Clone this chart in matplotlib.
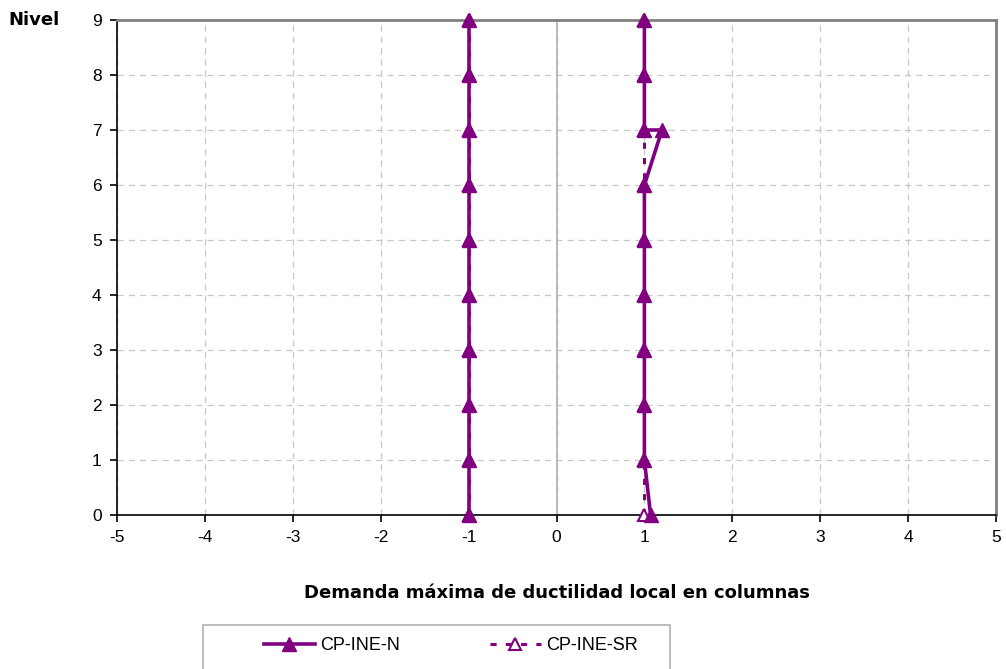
import matplotlib.pyplot as plt
from matplotlib.patches import Rectangle

plt.rcParams['font.family'] = ['Liberation Sans', 'DejaVu Sans']
plt.rcParams['axes.unicode_minus'] = False

# niveles y demandas de ductilidad (CP-INE-N, lado derecho pasa dos veces por el nivel 7)
nivel = [0, 1, 2, 3, 4, 5, 6, 7, 8, 9]
nivel_n_der = [0, 1, 2, 3, 4, 5, 6, 7, 7, 8, 9]
n_izq = [-1, -1, -1, -1, -1, -1, -1, -1, -1, -1]
n_der = [1.07, 1, 1, 1, 1, 1, 1, 1.2, 1, 1, 1]
sr_izq = [-1, -1, -1, -1, -1, -1, -1, -1, -1, -1]
sr_der = [1, 1, 1, 1, 1, 1, 1, 1, 1, 1]

xticks = [-5, -4, -3, -2, -1, 0, 1, 2, 3, 4, 5]
yticks = [0, 1, 2, 3, 4, 5, 6, 7, 8, 9]

morado = '#800080'

fig = plt.figure(figsize=(10.06, 6.69), dpi=100)
ax = fig.add_axes([117/1006, 1 - 515/669, (996-117)/1006, (515-20)/669])

# serie SR (debajo)
for xs in (sr_izq, sr_der):
    l_sr, = ax.plot(xs, nivel, color=morado, lw=2.2, ls=(0, (2, 3)),
                    marker='^', ms=9, mfc='white', mec=morado, mew=1.5,
                    zorder=3, clip_on=False)
# serie N
ax.plot(n_izq, nivel, color=morado, lw=2.6, marker='^', ms=10,
        mfc=morado, mec=morado, zorder=4, clip_on=False)
l_n, = ax.plot(n_der, nivel_n_der, color=morado, lw=2.6, marker='^', ms=10,
               mfc=morado, mec=morado, zorder=4, clip_on=False)

ax.set_xlim(-5, 5)
ax.set_ylim(0, 9)
ax.set_xticks(xticks)
ax.set_yticks(yticks)
ax.grid(True, color='#c8c8c8', ls=(0, (5, 4)), lw=0.9)
ax.set_axisbelow(True)
ax.axvline(0, color='#b0b0b0', lw=1.2, zorder=1)

for s in ['top', 'right']:
    ax.spines[s].set_color('#808080')
    ax.spines[s].set_linewidth(2)
for s in ['left', 'bottom']:
    ax.spines[s].set_color('black')
    ax.spines[s].set_linewidth(1.2)
ax.tick_params(direction='out', length=5, width=1.2, labelsize=12.5, pad=6)

ax.set_xlabel('Demanda máxima de ductilidad local en columnas',
              fontsize=13, fontweight='bold', family='DejaVu Sans', labelpad=28)
fig.text(8/1006, 1 - 20/669, 'Nivel', fontsize=13, fontweight='bold',
         family='DejaVu Sans', ha='left', va='center')

# cuadro de la leyenda
fig.patches.append(Rectangle((203/1006, -0.01), (670-203)/1006, (669-625)/669 + 0.01,
                             transform=fig.transFigure, fill=False,
                             ec='#b0b0b0', lw=1.2))
fig.legend([l_n, l_sr], ['CP-INE-N', 'CP-INE-SR'], ncol=2, frameon=False,
           loc='center', bbox_to_anchor=(451/1006, 1 - 646/669),
           fontsize=13, handlelength=2.8, columnspacing=5, handletextpad=0.3)

plt.savefig('out.png', dpi=100)
